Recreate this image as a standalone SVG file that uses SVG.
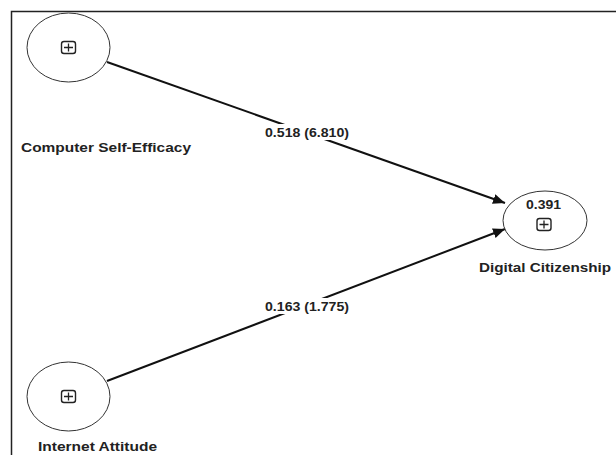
<svg xmlns="http://www.w3.org/2000/svg" width="616" height="455" viewBox="0 0 616 455">
<style>
.node{fill:#fff;stroke:#333;stroke-width:1}
.icon{fill:#fff;stroke:#222;stroke-width:1.4}
.lbl{font-family:"Liberation Sans",Arial,sans-serif;font-weight:bold;font-size:13px;fill:#222}
.edge{stroke:#111;stroke-width:2;fill:none}
.bg{fill:#fff}
</style>
<defs>
<marker id="arr" markerWidth="12" markerHeight="10" refX="12" refY="5" orient="auto" markerUnits="userSpaceOnUse">
<path d="M0,0 L12,5 L0,10 Z" fill="#111"/>
</marker>
<g id="plus">
<rect class="icon" x="-7" y="-6" width="14" height="12" rx="2.5"/>
<path d="M-4.5,0 H4.5 M0,-4 V4" stroke="#222" stroke-width="1.3"/>
</g>
</defs>
<rect width="616" height="455" fill="#fff"/>
<path d="M11.5,455 V11.5 H616" fill="none" stroke="#222" stroke-width="1.5"/>
<g id="connectors">
<g id="e1">
<line class="edge" x1="107" y1="62" x2="505" y2="203" marker-end="url(#arr)"/>
<rect class="bg" x="263" y="124" width="88" height="16"/>
<text class="lbl" x="265" y="137" textLength="84" lengthAdjust="spacingAndGlyphs">0.518 (6.810)</text>
</g>
<g id="e2">
<line class="edge" x1="107" y1="381" x2="505" y2="229" marker-end="url(#arr)"/>
<rect class="bg" x="263" y="298" width="88" height="16"/>
<text class="lbl" x="265" y="311" textLength="84" lengthAdjust="spacingAndGlyphs">0.163 (1.775)</text>
</g>
</g>
<g id="cse">
<ellipse class="node" cx="68.5" cy="47.5" rx="41.5" ry="34.5"/>
<use href="#plus" x="68.5" y="47.5"/>
<text class="lbl" x="21" y="152" textLength="170" lengthAdjust="spacingAndGlyphs">Computer Self-Efficacy</text>
</g>
<g id="ia">
<ellipse class="node" cx="68.5" cy="396.5" rx="41.5" ry="34.5"/>
<use href="#plus" x="68.5" y="396.5"/>
<text class="lbl" x="38" y="451" textLength="119" lengthAdjust="spacingAndGlyphs">Internet Attitude</text>
</g>
<g id="dc">
<ellipse class="node" cx="545" cy="220.5" rx="42" ry="29.5"/>
<text class="lbl" x="526" y="209" textLength="35" lengthAdjust="spacingAndGlyphs">0.391</text>
<use href="#plus" x="544" y="224.5"/>
<text class="lbl" x="479" y="272" textLength="132" lengthAdjust="spacingAndGlyphs">Digital Citizenship</text>
</g>
</svg>
